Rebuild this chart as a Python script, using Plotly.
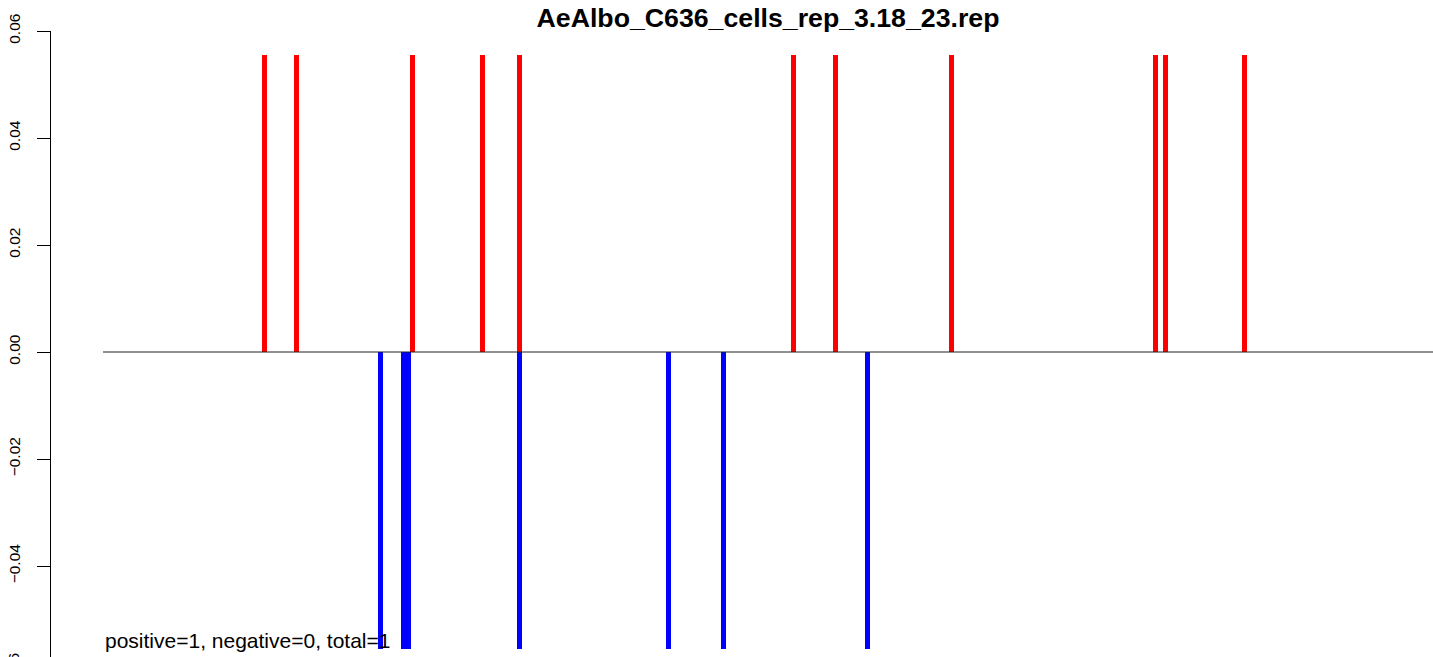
import plotly.graph_objects as go

# Data (positions along the element, arbitrary units; values = read fraction)
pos_positions = [161.3, 193.5, 309.5, 379.5, 416.5, 690.5, 732.5, 848.5, 1052.5, 1062.5, 1141.5]
pos_values = [1/18] * len(pos_positions)
neg_positions = [277.5, 300.5, 305.5, 416.5, 565.5, 620.5, 764.5]
neg_values = [-1/18] * len(neg_positions)
x_extent = [0, 1330]
y_ticks = [-0.06, -0.04, -0.02, 0.0, 0.02, 0.04, 0.06]
title_text = "AeAlbo_C636_cells_rep_3.18_23.rep"
summary_text = "positive=1, negative=0, total=1"

W, H = 1433, 657
ML, MT = 50, 31
plot_w = W - ML
plot_h = H - MT
x_dom0 = (103 - ML) / plot_w

fig = go.Figure()
fig.add_trace(go.Bar(x=pos_positions, y=pos_values, width=5, marker=dict(color="#FF0000", line=dict(width=0)), showlegend=False))
fig.add_trace(go.Bar(x=neg_positions, y=neg_values, width=5, marker=dict(color="#0000FF", line=dict(width=0)), showlegend=False))
fig.add_trace(go.Scatter(x=x_extent, y=[0, 0], mode="lines", line=dict(color="#222222", width=1), showlegend=False, hoverinfo="skip"))

y_top = 0.06
px_per_unit = (352 - MT) / 0.06
y_bot = -(H - 352) / px_per_unit

fig.update_layout(
    width=W, height=H,
    margin=dict(l=ML, r=0, t=MT, b=0, autoexpand=False),
    plot_bgcolor="white", paper_bgcolor="white",
    barmode="overlay", bargap=0,
    font=dict(family="Liberation Sans, Arial, sans-serif", color="black"),
    title=dict(text="<b>" + title_text + "</b>", x=768 / W, xref="container", xanchor="center",
               y=1 - 18 / H, yref="container", yanchor="middle",
               font=dict(size=26.7, color="black")),
    xaxis=dict(domain=[x_dom0, 1], range=x_extent, visible=False, showgrid=False, zeroline=False),
    yaxis=dict(range=[y_bot, y_top], anchor="free", position=0, tickvals=y_ticks,
               tickformat=".2f", tickangle=-90, ticks="outside", ticklen=13, tickwidth=1,
               tickcolor="black", showline=True, linecolor="black", linewidth=1,
               showgrid=False, zeroline=False, tickfont=dict(size=15.5, color="black"),
               ticklabelstandoff=11, automargin=False),
)

fig.add_annotation(text=summary_text, xref="x", x=x_extent[0], xanchor="left",
                   yref="paper", y=(H - 640) / plot_h, yanchor="middle",
                   showarrow=False, font=dict(size=21, color="black"))
fig.add_annotation(text="\u22120.06", xref="paper", x=-36 / plot_w, xanchor="center",
                   yref="paper", y=-(673 - H) / plot_h, yanchor="middle", textangle=-90,
                   showarrow=False, font=dict(size=15.5, color="black"))

fig.write_html("out.html", config={"displayModeBar": False},
               post_script="document.body.style.margin='0';document.body.style.overflow='hidden';")
